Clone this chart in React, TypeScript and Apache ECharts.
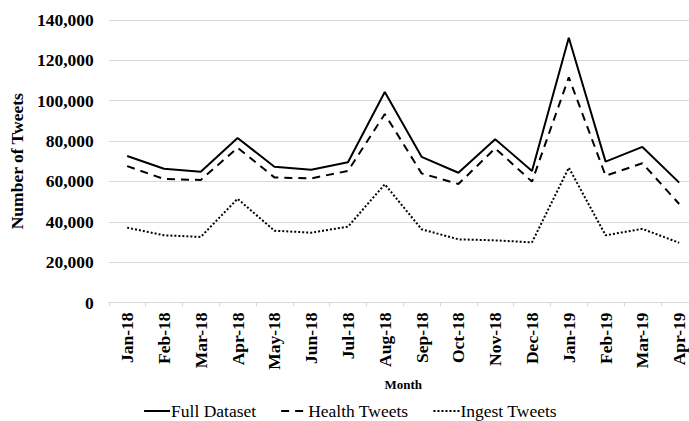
import React, { useEffect, useRef } from "react";
import * as echarts from "echarts";

const months = ["Jan-18","Feb-18","Mar-18","Apr-18","May-18","Jun-18","Jul-18","Aug-18","Sep-18","Oct-18","Nov-18","Dec-18","Jan-19","Feb-19","Mar-19","Apr-19"];
const fullDataset = [72600,66300,64800,81500,67300,65800,69500,104300,72200,64300,80900,65200,131200,69800,77100,59400];
const healthTweets = [67600,61200,60700,76700,62000,61500,65200,93400,64000,58700,76400,59900,111600,62800,69000,48800];
const ingestTweets = [37100,33300,32500,51400,35600,34600,37600,58600,36300,31300,30800,29800,66800,33300,36500,29600];

const FONT = "Times New Roman, Liberation Serif, serif";

export default function App() {
  const ref = useRef<HTMLDivElement>(null);
  useEffect(() => {
    document.body.style.overflow = "hidden";
    const chart = echarts.init(ref.current!, null, { renderer: "svg" });
    const mk = (name: string, data: number[], type: any) => ({
      name,
      type: "line",
      data,
      symbol: "none",
      lineStyle: { color: "#000", width: 2, type },
      itemStyle: { color: "#000" },
    });
    const labelStyle = {
      fontFamily: FONT,
      fontSize: 17.5,
      fontWeight: "bold" as const,
      fontStyle: "normal" as const,
      color: "#000",
    };
    chart.setOption({
      animation: false,
      textStyle: { fontFamily: FONT },
      grid: { left: 104, right: 2.4, top: 20, bottom: 118.5 },
      legend: {
        bottom: -4,
        left: "center",
        itemWidth: 26,
        itemHeight: 10,
        itemGap: 24,
        itemStyle: { color: "rgba(0,0,0,0)", borderWidth: 0, opacity: 0 },
        textStyle: { fontFamily: FONT, fontSize: 17.5, color: "#000", padding: [0, 0, 0, -4] },
        data: ["Full Dataset", "Health Tweets", "Ingest Tweets"],
      },
      xAxis: {
        type: "category",
        data: months,
        boundaryGap: true,
        name: "Month",
        nameLocation: "middle",
        nameGap: 75,
        nameTextStyle: { fontFamily: FONT, fontSize: 13, fontWeight: "bold", color: "#000" },
        axisLine: { show: true, lineStyle: { color: "#d9d9d9", width: 1 } },
        axisTick: { show: true, length: 4, lineStyle: { color: "#d9d9d9" } },
        axisLabel: { rotate: 90, margin: 10, ...labelStyle },
      },
      yAxis: {
        type: "value",
        min: 0,
        max: 140000,
        interval: 20000,
        name: "Number of Tweets",
        nameLocation: "middle",
        nameGap: 78,
        nameTextStyle: { fontFamily: FONT, fontSize: 17.5, fontWeight: "bold", color: "#000" },
        axisLine: { show: false },
        axisTick: { show: false },
        splitLine: { lineStyle: { color: "#d9d9d9", width: 1 } },
        axisLabel: {
          margin: 15,
          ...labelStyle,
          formatter: (v: number) => v.toLocaleString("en-US"),
        },
      },
      series: [
        mk("Full Dataset", fullDataset, "solid"),
        mk("Health Tweets", healthTweets, [8, 6]),
        mk("Ingest Tweets", ingestTweets, [2, 2]),
      ],
    });
    return () => chart.dispose();
  }, []);
  return (
    <div
      ref={ref}
      style={{ position: "fixed", left: 0, top: 0, width: 700, height: 421, background: "#fff" }}
    />
  );
}
